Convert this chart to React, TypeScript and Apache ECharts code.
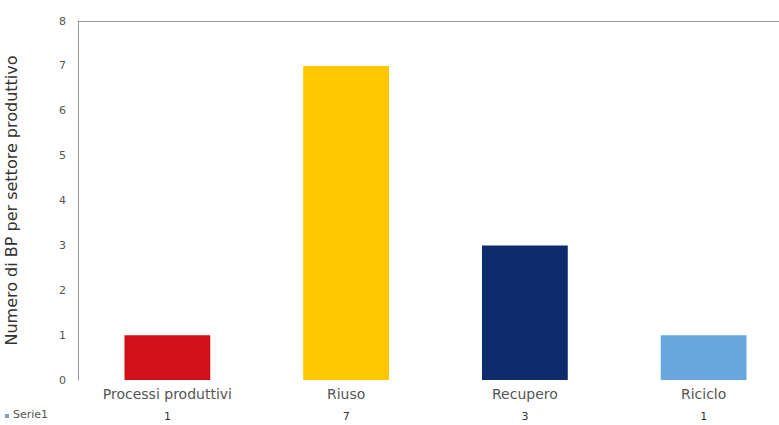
import React, { useEffect, useRef } from "react";
import * as echarts from "echarts";

const categories = ["Processi produttivi", "Riuso", "Recupero", "Riciclo"];
const values = [1, 7, 3, 1];
const barColors = ["#d0101a", "#ffc700", "#0e2b6c", "#6aa6de"];
const seriesName = "Serie1";
const yAxisTitle = "Numero di BP per settore produttivo";

export default function App() {
  const ref = useRef<HTMLDivElement>(null);
  useEffect(() => {
    const chart = echarts.init(ref.current!, null, { renderer: "svg" });
    const font = "'DejaVu Sans', sans-serif";
    chart.setOption({
      animation: false,
      backgroundColor: "#ffffff",
      textStyle: { fontFamily: font },
      grid: {
        left: 78,
        top: 21,
        right: -14,
        bottom: 45,
        containLabel: false,
        outerBoundsMode: "none",
      },
      xAxis: [
        {
          type: "category",
          data: categories,
          position: "bottom",
          axisLine: { show: false },
          axisTick: { show: false },
          axisLabel: { color: "#555", fontSize: 14, margin: 7, fontFamily: font },
        },
        {
          type: "category",
          data: values.map(String),
          position: "bottom",
          offset: 25,
          axisLine: { show: false },
          axisTick: { show: false },
          axisLabel: { color: "#333", fontSize: 11, margin: 6, fontFamily: font },
        },
        {
          type: "category",
          data: categories,
          position: "top",
          axisLine: { show: true, lineStyle: { color: "#999", width: 1 } },
          axisTick: { show: false },
          axisLabel: { show: false },
        },
      ],
      yAxis: {
        type: "value",
        min: 0,
        max: 8,
        interval: 1,
        name: yAxisTitle,
        nameLocation: "middle",
        nameGap: 59,
        nameTextStyle: { color: "#333", fontSize: 16, fontFamily: font },
        axisLine: { show: true, lineStyle: { color: "#999" } },
        axisTick: { show: false },
        splitLine: { show: false },
        axisLabel: { color: "#555", fontSize: 11, margin: 12, fontFamily: font },
      },
      series: [
        {
          name: seriesName,
          type: "bar",
          xAxisIndex: 0,
          data: values.map((v, i) => ({ value: v, itemStyle: { color: barColors[i] } })),
          barWidth: "48%",
        },
      ],
      graphic: [
        {
          type: "rect",
          left: 5,
          top: 414,
          shape: { width: 4, height: 4 },
          style: { fill: "#8a9bb5" },
        },
        {
          type: "text",
          left: 13,
          top: 409,
          style: { text: seriesName, fill: "#555", fontSize: 11, fontFamily: font },
        },
      ],
    });
    return () => chart.dispose();
  }, []);
  return (
    <div
      ref={ref}
      style={{ position: "fixed", left: 0, top: 0, width: 779, height: 425 }}
    />
  );
}
